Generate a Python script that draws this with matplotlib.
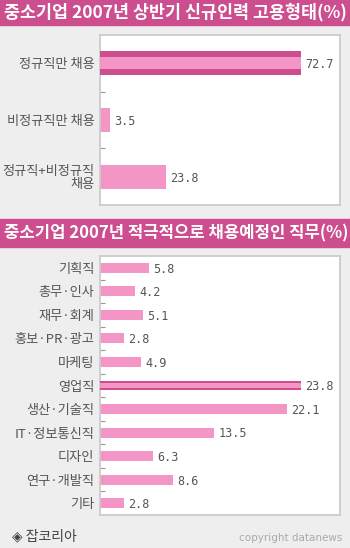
import matplotlib.pyplot as plt
from matplotlib.patches import Rectangle

plt.rcParams['font.family'] = ['Noto Sans CJK KR', 'DejaVu Sans']

# Data
title1 = '중소기업 2007년 상반기 신규인력 고용형태(%)'
types = ['정규직만 채용', '비정규직만 채용', '정규직+비정규직\n채용']
type_values = [72.7, 3.5, 23.8]

title2 = '중소기업 2007년 적극적으로 채용예정인 직무(%)'
jobs = ['기획직', '총무·인사', '재무·회계', '홍보·PR·광고', '마케팅', '영업직',
        '생산·기술직', 'IT·정보통신직', '디자인', '연구·개발직', '기타']
job_values = [5.8, 4.2, 5.1, 2.8, 4.9, 23.8, 22.1, 13.5, 6.3, 8.6, 2.8]

PINK = '#f496c5'
DARK = '#cc4e8e'
BG = '#eeeeee'
W, H = 350, 548

fig = plt.figure(figsize=(W / 100, H / 100), dpi=100, facecolor=BG)


def px_axes(left, top, right, bottom):
    return fig.add_axes([left / W, 1 - bottom / H, (right - left) / W, (bottom - top) / H])


def title_bar(text, top, bottom, size):
    fig.patches.append(Rectangle((0, 1 - bottom / H), 1, (bottom - top) / H,
                                 transform=fig.transFigure, color=DARK, zorder=0))
    fig.text(4 / W, 1 - (top + bottom) / 2 / H, text, color='white', fontsize=size,
             fontweight='bold', ha='left', va='center')


def hbar_panel(ax, labels, values):
    n = len(labels)
    top = max(values)
    hi = values.index(top)
    pos = list(range(n))
    h = 0.42
    ax.barh(pos, values, height=h, color=PINK, zorder=2)
    # highlighted (largest) bar: dark frame with pink stripe
    ax.barh(hi, values[hi], height=h, color=DARK, zorder=3)
    ax.barh(hi, values[hi], height=h * 0.5, color=PINK, zorder=4)
    for p, v in zip(pos, values):
        ax.annotate(f'{v:.1f}', (v, p), xytext=(3, -1), textcoords='offset points',
                    va='center', ha='left', fontsize=8.5, color='#555555',
                    family='DejaVu Sans Mono')
    ax.set_xlim(0, top / 0.8375)
    ax.set_ylim(n - 0.5, -0.5)
    ax.set_yticks(pos)
    ax.set_yticklabels(labels, fontsize=9.5, color='#555555', linespacing=1.0)
    ax.set_yticks([i + 0.5 for i in range(n - 1)], minor=True)
    ax.tick_params(axis='y', which='major', length=0, pad=4)
    ax.tick_params(axis='y', which='minor', direction='in', length=3.6,
                   width=0.8, color='#999999')
    ax.set_xticks([])
    for s in ax.spines.values():
        s.set_color('#cccccc')
        s.set_linewidth(1.3)
    ax.set_facecolor('white')


title_bar(title1, 0, 25, 12.5)
ax1 = px_axes(100, 35, 340, 205)
hbar_panel(ax1, types, type_values)

title_bar(title2, 219, 247, 12)
ax2 = px_axes(100, 256, 340, 515)
hbar_panel(ax2, jobs, job_values)

fig.text(12 / W, 1 - 536 / H, '◈ 잡코리아', fontsize=10, color='#444444',
         ha='left', va='center')
fig.text(342 / W, 1 - 538 / H, 'copyright datanews', fontsize=7.5, color='#aaaaaa',
         ha='right', va='center', family='DejaVu Sans')

fig.savefig('out.png', dpi=100, facecolor=BG)
